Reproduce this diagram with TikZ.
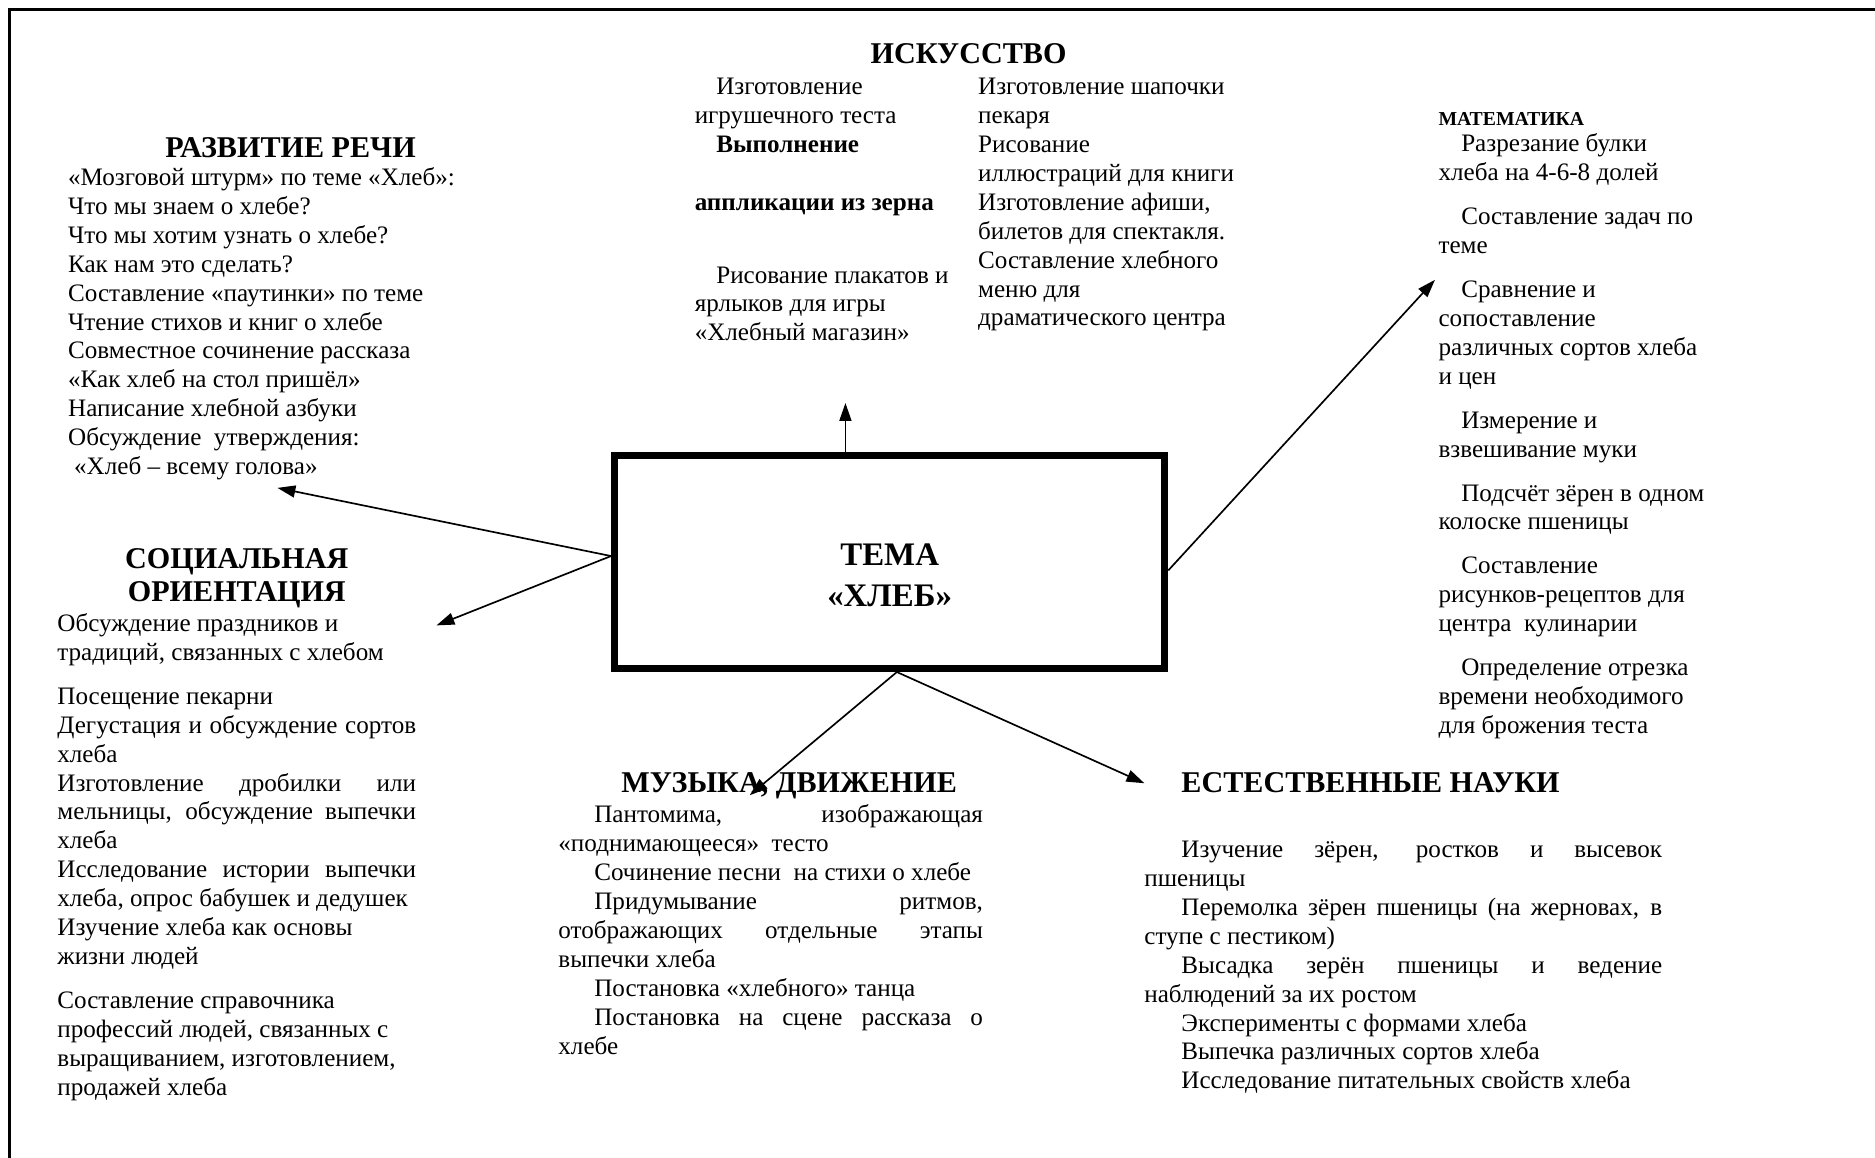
\documentclass[tikz,border=0pt]{standalone}
\usepackage{fontspec}
\setmainfont{Liberation Serif}
\usetikzlibrary{arrows.meta,calc}
\newlength\indw
\newlength\blkw
\newcommand\Bx[1]{\vtop{\baselineskip=24.2pt\lineskiplimit=-100pt\lineskip=0pt\relax #1}}
\newcommand\Lh[1]{\hbox{#1}}
\newcommand\Li[1]{\hbox{\kern\indw #1}}
\newcommand\Lj[1]{\hbox to \blkw{#1}}
\newcommand\Lji[1]{\hbox to \blkw{\kern\indw #1}}
\newcommand\Lc[1]{\hbox to \blkw{\hfil #1\hfil}}
\newcommand\Gap{\vskip12.5pt}
\tikzset{
  body/.style={inner sep=0pt, outer sep=0pt, anchor=base west, font=\fontsize{21}{24.2}\selectfont},
  ttl/.style={inner sep=0pt, outer sep=0pt, anchor=base, font=\fontsize{25.2}{28}\selectfont\bfseries},
  arr/.style={line width=1.4pt, -{Triangle[length=15pt,width=10pt]}},
  themebox/.style={draw, line width=6pt, minimum width=460pt, minimum height=178pt, inner sep=0pt},
}
\begin{document}
\begin{tikzpicture}[x=1pt,y=-1pt]
\useasboundingbox (0,0) rectangle (1568,968);
\draw[line width=2pt] (8,968) -- (8,8) -- (1568,8);

% central box
\node[themebox] (tema) at (744,470) {};
\node[inner sep=0pt, anchor=base, font=\fontsize{27.5}{34}\selectfont\bfseries] (temalbl) at (744,473)
  {\setlength\blkw{200pt}\vtop{\baselineskip=34pt\Lc{ТЕМА}\Lc{«ХЛЕБ»}}};

% tips
\coordinate (upTip) at (707,337);
\coordinate (rechTip) at (232,408);
\coordinate (socTip) at (365,523);
\coordinate (mathTip) at (1200,234);
\coordinate (musTip) at (627,665);
\coordinate (natTip) at (957,655);

\draw[arr] ([xshift=-37pt]tema.north) -- (upTip);
\draw[arr] ([yshift=5pt]tema.west) -- (rechTip);
\draw[arr] ([yshift=5pt]tema.west) -- (socTip);
\draw[arr] ([yshift=-7pt]tema.east) -- (mathTip);
\draw[arr] ([xshift=6pt]tema.south) -- (musTip);
\draw[arr] ([xshift=6pt]tema.south) -- (natTip);

% РАЗВИТИЕ РЕЧИ
\node[ttl] (rechttl) at (243,132) {РАЗВИТИЕ РЕЧИ};
\node[body] (rech) at (57,155) {\Bx{%
\Lh{«Мозговой штурм» по теме «Хлеб»:}
\Lh{Что мы знаем о хлебе?}
\Lh{Что мы хотим узнать о хлебе?}
\Lh{Как нам это сделать?}
\Lh{Составление «паутинки» по теме}
\Lh{Чтение стихов и книг о хлебе}
\Lh{Совместное сочинение рассказа}
\Lh{«Как хлеб на стол пришёл»}
\Lh{Написание хлебной азбуки}
\Lh{Обсуждение\ \ утверждения:}
\Lh{\kern5pt«Хлеб – всему голова»}}};

% СОЦИАЛЬНАЯ ОРИЕНТАЦИЯ
\node[ttl] (socttl) at (198,475) {\setlength\blkw{260pt}\vtop{\baselineskip=28pt\Lc{СОЦИАЛЬНАЯ}\Lc{ОРИЕНТАЦИЯ}}};
\node[body] (soc) at (48,528) {\setlength\blkw{300pt}\Bx{%
\Lh{Обсуждение праздников и}
\Lh{традиций, связанных с хлебом}
\Gap
\Lh{Посещение пекарни}
\Lj{Дегустация и обсуждение сортов}
\Lh{хлеба}
\Lj{Изготовление дробилки или}
\Lj{мельницы, обсуждение выпечки}
\Lh{хлеба}
\Lj{Исследование истории выпечки}
\Lh{хлеба, опрос бабушек и дедушек}
\Lh{Изучение хлеба как основы}
\Lh{жизни людей}
\Gap
\Lh{Составление справочника}
\Lh{профессий людей, связанных с}
\Lh{выращиванием, изготовлением,}
\Lh{продажей хлеба}}};

% ИСКУССТВО
\node[ttl] (artttl) at (810,53) {ИСКУССТВО};
\node[body] (artL) at (581,79) {\setlength\indw{18pt}\Bx{%
\Li{Изготовление}
\Lh{игрушечного теста}
\Li{\bfseries Выполнение}
\Lh{}
\Lh{\bfseries аппликации из зерна}
\Lh{}
\Gap
\Li{Рисование плакатов и}
\Lh{ярлыков для игры}
\Lh{«Хлебный магазин»}}};
\node[body] (artR) at (818,79) {\Bx{%
\Lh{Изготовление шапочки}
\Lh{пекаря}
\Lh{Рисование}
\Lh{иллюстраций для книги}
\Lh{Изготовление афиши,}
\Lh{билетов для спектакля.}
\Lh{Составление хлебного}
\Lh{меню для}
\Lh{драматического центра}}};

% МАТЕМАТИКА
\node[inner sep=0pt, outer sep=0pt, anchor=base west, font=\fontsize{16.5}{20}\selectfont\bfseries] (mathttl) at (1203,105) {МАТЕМАТИКА};
\node[body] (math) at (1203,127) {\setlength\indw{19pt}\Bx{%
\Li{Разрезание булки}
\Lh{хлеба на 4-6-8 долей}
\Gap
\Li{Составление задач по}
\Lh{теме}
\Gap
\Li{Сравнение и}
\Lh{сопоставление}
\Lh{различных сортов хлеба}
\Lh{и цен}
\Gap
\Li{Измерение и}
\Lh{взвешивание муки}
\Gap
\Li{Подсчёт зёрен в одном}
\Lh{колоске пшеницы}
\Gap
\Li{Составление}
\Lh{рисунков-рецептов для}
\Lh{центра\ \ кулинарии}
\Gap
\Li{Определение отрезка}
\Lh{времени необходимого}
\Lh{для брожения теста}}};

% МУЗЫКА, ДВИЖЕНИЕ
\node[ttl] (musttl) at (660,663) {МУЗЫКА, ДВИЖЕНИЕ};
\node[body] (mus) at (467,688) {\setlength\indw{30pt}\setlength\blkw{355pt}\Bx{%
\Lji{Пантомима, изображающая}
\Lh{«поднимающееся»\ \ тесто}
\Li{Сочинение песни\ \ на стихи о хлебе}
\Lji{Придумывание ритмов,}
\Lj{отображающих отдельные этапы}
\Lh{выпечки хлеба}
\Li{Постановка «хлебного» танца}
\Lji{Постановка на сцене рассказа о}
\Lh{хлебе}}};

% ЕСТЕСТВЕННЫЕ НАУКИ
\node[ttl, anchor=base west] (natttl) at (988,663) {ЕСТЕСТВЕННЫЕ НАУКИ};
\node[body] (nat) at (957,717) {\setlength\indw{31pt}\setlength\blkw{433pt}\Bx{%
\Lji{Изучение зёрен, ростков и высевок}
\Lh{пшеницы}
\Lji{Перемолка зёрен пшеницы (на жерновах, в}
\Lh{ступе с пестиком)}
\Lji{Высадка зерён пшеницы и ведение}
\Lh{наблюдений за их ростом}
\Li{Эксперименты с формами хлеба}
\Li{Выпечка различных сортов хлеба}
\Li{Исследование питательных свойств хлеба}}};
\end{tikzpicture}
\end{document}
